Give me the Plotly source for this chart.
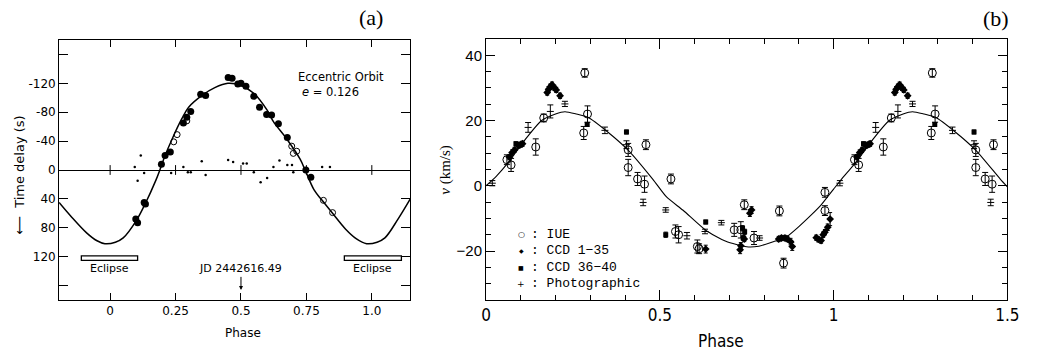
import plotly.graph_objects as go

W, H = 1044, 352

# ---------------- Panel (a) data ----------------
a_curve_phase = [-0.195, -0.15, -0.09, -0.05, -0.02, 0.02, 0.05, 0.10, 0.135, 0.175, 0.19, 0.21, 0.237,
                 0.274, 0.30, 0.35, 0.40, 0.45, 0.50, 0.55, 0.60, 0.624, 0.675, 0.726, 0.745, 0.78, 0.81,
                 0.85, 0.90, 0.94, 0.98, 1.02, 1.05, 1.10, 1.147]
a_curve_delay = [45, 64, 87, 98, 102, 100, 94, 70, 46, 14, 0, -20, -43,
                 -71, -87, -103, -114, -120, -117, -106, -83, -67, -43, -15, 0, 28, 42,
                 60, 82, 95, 102, 100, 94, 68, 40]

a_filled_phase = [0.098, 0.105, 0.13, 0.135, 0.196, 0.21, 0.23, 0.28, 0.293, 0.308, 0.346, 0.365, 0.451,
                  0.466, 0.488, 0.50, 0.519, 0.549, 0.571, 0.598, 0.617, 0.643, 0.677, 0.748, 0.767]
a_filled_delay = [68, 73, 45, 47, -8, -20, -25, -65, -73, -81, -105, -103, -128,
                  -127, -119, -120, -116, -102, -87, -77, -76, -64, -45, 0, 10]

a_open_phase = [0.243, 0.256, 0.293, 0.694, 0.700, 0.713, 0.815, 0.85]
a_open_delay = [-39, -49, -68, -33, -23, -26, 42, 59]

a_dot_phase = [0.094, 0.105, 0.117, 0.13, 0.233, 0.28, 0.297, 0.308, 0.35, 0.365, 0.451, 0.47, 0.508,
               0.522, 0.549, 0.575, 0.60, 0.624, 0.647, 0.677, 0.695, 0.70, 0.81, 0.84]
a_dot_delay = [-4, 15, -20, 4, 4, -4, 3, 3, -12, 7, -14, -11, -9,
               -9, 3, 17, 11, -4, -13, -7, -7, 3, -4, -4]

a_zero_marks = [0, 0.25, 0.5, 0.75, 1.0]
a_xtick_vals = [0, 0.25, 0.5, 0.75, 1.0]
a_xtick_text = ["0", "0.25", "0.5", "0.75", "1.0"]
a_ytick_vals = [-160, -120, -80, -40, 0, 40, 80, 120, 160]
a_ytick_text = ["", "-120", "-80", "-40", "0", "40", "80", "120", ""]

eclipse_start = [-0.11, 0.895]
eclipse_end = [0.105, 1.113]
eclipse_top, eclipse_bottom = 119, 125

# ---------------- Panel (b) data ----------------
b_curve_phase = [0.0, 0.03, 0.066, 0.104, 0.16, 0.20, 0.227, 0.26, 0.293, 0.35, 0.41, 0.48, 0.52, 0.567,
                 0.632, 0.69, 0.75, 0.785, 0.83, 0.86, 0.90, 0.935, 0.963, 1.0, 1.03, 1.066, 1.104, 1.16,
                 1.20, 1.227, 1.26, 1.293, 1.35, 1.41, 1.48, 1.5]
b_curve_v = [0, 3, 7.4, 13, 20, 22, 22.7, 22, 21, 16.5, 10.8, 2, -3.5, -7.5,
             -13.6, -17, -18.7, -18.5, -17, -16, -12.5, -9, -6, -1, 3, 7.4, 13, 20,
             22, 22.7, 22, 21, 16.5, 10.8, 2, -0.3]

iue_phase = [0.060, 0.072, 0.143, 0.166, 0.284, 0.281, 0.292, 0.409, 0.409, 0.436, 0.456, 0.460, 0.532,
             0.545, 0.554, 0.608, 0.613, 0.714, 0.733, 0.743, 0.771, 0.844, 0.856, 0.975, 0.975]
iue_v = [8.0, 6.4, 11.9, 20.8, 34.6, 16.2, 22.0, 11.0, 5.6, 2.1, 0.5, 12.6, 2.1,
         -14.0, -15.0, -18.6, -19.3, -13.5, -13.5, -5.8, -16.0, -7.7, -23.7, -2.0, -7.6]
iue_err = [1.5, 2.0, 2.5, 1.2, 1.3, 2.0, 2.5, 2.0, 2.5, 2.0, 2.5, 1.5, 1.5,
           2.0, 2.5, 2.0, 1.5, 2.0, 2.5, 1.5, 2.0, 1.5, 1.5, 1.5, 1.5]

ccd1_phase = [0.067, 0.075, 0.082, 0.093, 0.099, 0.105, 0.176, 0.180, 0.185, 0.190, 0.197, 0.202, 0.213,
              0.632, 0.731, 0.733, 0.759, 0.764, 0.743, 0.842, 0.850, 0.860, 0.867, 0.876, 0.881,
              0.950, 0.956, 0.964, 0.970, 0.975, 0.983, 0.990]
ccd1_v = [8.8, 10.2, 11.0, 12.3, 12.6, 12.9, 28.6, 29.6, 30.4, 31.0, 30.0, 29.4, 27.6,
          -19.4, -19.6, -18.4, -8.4, -7.4, -16.3, -16.3, -16.0, -16.0, -16.3, -17.1, -18.6,
          -15.9, -16.4, -16.8, -15.0, -14.2, -12.7, -10.2]
ccd1_err = [0.8, 0.8, 0.8, 0.8, 0.8, 0.8, 0.8, 0.8, 0.8, 0.8, 0.8, 0.8, 0.8,
            1.2, 1.2, 1.0, 1.0, 1.0, 0.8, 0.8, 0.8, 0.8, 0.8, 1.0, 1.2,
            0.8, 0.8, 0.8, 0.8, 0.8, 1.0, 2.0]

ccd2_phase = [0.086, 0.291, 0.404, 0.517, 0.632, 0.738, 0.744, 0.740]
ccd2_v = [12.9, 18.8, 16.5, -15.0, -11.1, -13.0, -14.1, -16.0]
ccd2_err = [0.6, 0.6, 0.6, 0.8, 0.6, 0.8, 0.8, 0.8]

phot_phase = [0.018, 0.121, 0.185, 0.227, 0.342, 0.404, 0.452, 0.517, 0.578, 0.630, 0.677, 0.787]
phot_v = [0.8, 17.9, 22.8, 25.1, 17.0, 12.6, -5.1, -7.4, -15.3, -14.0, -11.3, -16.0]
phot_err = [0.8, 1.5, 2.0, 0.8, 1.0, 1.2, 1.0, 0.7, 1.0, 0.7, 0.7, 0.7]

legend_symbols = ["○", "◆", "■", "+"]
legend_symbol_sizes = [8, 6, 6, 9]
legend_labels = [": IUE", ": CCD 1−35", ": CCD 36−40", ": Photographic"]


def two_cycles(ph, v, err):
    """Phase-fold: show each observation, and repeat those with phase < 0.5 one cycle later."""
    P, V, E = list(ph), list(v), list(err)
    for p, vv, e in zip(ph, v, err):
        if p + 1 <= 1.5:
            P.append(p + 1)
            V.append(vv)
            E.append(e)
    return P, V, E


def px(x):
    return x / W


def py(y):
    return 1 - y / H


def note(text, x, y, size, family, angle=0, xanchor="center"):
    return dict(text=text, x=px(x), y=py(y), xref="paper", yref="paper", showarrow=False,
                xanchor=xanchor, yanchor="middle", textangle=angle,
                font=dict(family=family, size=size, color="black"))


fig = go.Figure()

# ---- Panel (a) traces ----
fig.add_trace(go.Scatter(x=a_curve_phase, y=a_curve_delay, mode="lines", line=dict(color="black", width=1.5,
                         shape="spline", smoothing=1.0), xaxis="x", yaxis="y", hoverinfo="skip"))
fig.add_trace(go.Scatter(x=a_zero_marks, y=[0] * len(a_zero_marks), mode="markers",
                         marker=dict(symbol="line-ns", size=7, line=dict(color="black", width=1)),
                         xaxis="x", yaxis="y"))
fig.add_trace(go.Scatter(x=a_dot_phase, y=a_dot_delay, mode="markers",
                         marker=dict(symbol="circle", size=2.5, color="black"), xaxis="x", yaxis="y"))
fig.add_trace(go.Scatter(x=a_filled_phase, y=a_filled_delay, mode="markers",
                         marker=dict(symbol="circle", size=7, color="black"), xaxis="x", yaxis="y"))
fig.add_trace(go.Scatter(x=a_open_phase, y=a_open_delay, mode="markers",
                         marker=dict(symbol="circle-open", size=6, color="black", line=dict(width=1)),
                         xaxis="x", yaxis="y"))

# ---- Panel (b) traces ----
fig.add_trace(go.Scatter(x=b_curve_phase, y=b_curve_v, mode="lines",
                         line=dict(color="black", width=1.1, shape="spline", smoothing=0.6),
                         xaxis="x2", yaxis="y2"))

P, V, E = two_cycles(phot_phase, phot_v, phot_err)
fig.add_trace(go.Scatter(x=P, y=V, mode="markers", xaxis="x2", yaxis="y2",
                         marker=dict(symbol="line-ew", size=5, line=dict(color="black", width=1)),
                         error_y=dict(type="data", array=E, visible=True, color="black", thickness=1, width=3)))
P, V, E = two_cycles(iue_phase, iue_v, iue_err)
fig.add_trace(go.Scatter(x=P, y=V, mode="markers", xaxis="x2", yaxis="y2",
                         marker=dict(symbol="circle-open", size=8, color="black", line=dict(width=1)),
                         error_y=dict(type="data", array=E, visible=True, color="black", thickness=1, width=3)))
P, V, E = two_cycles(ccd1_phase, ccd1_v, ccd1_err)
fig.add_trace(go.Scatter(x=P, y=V, mode="markers", xaxis="x2", yaxis="y2",
                         marker=dict(symbol="diamond", size=6, color="black"),
                         error_y=dict(type="data", array=E, visible=True, color="black", thickness=1, width=2)))
P, V, E = two_cycles(ccd2_phase, ccd2_v, ccd2_err)
fig.add_trace(go.Scatter(x=P, y=V, mode="markers", xaxis="x2", yaxis="y2",
                         marker=dict(symbol="square", size=5, color="black"),
                         error_y=dict(type="data", array=E, visible=True, color="black", thickness=1, width=2)))

# ---- Shapes: eclipse bars ----
shapes = []
for s, e in zip(eclipse_start, eclipse_end):
    shapes.append(dict(type="rect", xref="x", yref="y", x0=s, x1=e, y0=eclipse_top, y1=eclipse_bottom,
                       line=dict(color="black", width=1.3), fillcolor="white"))

fa = "DejaVu Sans"
cond = "DejaVu Sans Condensed, Liberation Sans"
annotations = [
    note("Eccentric Orbit", 342, 77, 11.5, fa),
    note("<i>e</i> = 0.126", 331, 92, 11.5, fa),
    dict(text="JD 2442616.49", x=0.5, y=166, xref="x", yref="y", ax=0, ay=-21, showarrow=True,
         arrowhead=2, arrowsize=0.8, arrowwidth=1, arrowcolor="black", standoff=0,
         xanchor="center", yanchor="middle", font=dict(family=fa, size=11, color="black")),
    note("Phase", 242, 333, 12, fa),
    note("⟵  Time delay (s)", 15, 175, 13, fa, angle=-90),
    note("(a)", 372, 17, 22, "Liberation Serif"),
    note("(b)", 1007, 18, 22, "Liberation Serif"),
    note("<i>v</i> (km/s)", 447, 170, 15, "Liberation Serif", angle=-90),
    note("Phase", 728, 341, 17, cond),
]
for s, e in zip(eclipse_start, eclipse_end):
    annotations.append(dict(text="Eclipse", x=(s + e) / 2, y=136, xref="x", yref="y", showarrow=False,
                            xanchor="center", yanchor="middle", font=dict(family=fa, size=11, color="black")))
for i, (sym, ss, lab) in enumerate(zip(legend_symbols, legend_symbol_sizes, legend_labels)):
    yy = 234 + 16.5 * i
    annotations.append(note(sym, 525, yy, ss, fa))
    annotations.append(note(lab, 533, yy, 13, "Liberation Mono", xanchor="left"))

axis_common = dict(showgrid=False, showline=True, linecolor="black", linewidth=1, mirror="ticks",
                   ticks="inside", tickcolor="black")

fig.update_layout(
    width=W, height=H, autosize=False, showlegend=False,
    margin=dict(l=0, r=0, t=0, b=0),
    paper_bgcolor="white", plot_bgcolor="white",
    shapes=shapes, annotations=annotations,
    xaxis=dict(domain=[px(55), px(412)], range=[-0.195, 1.147], tickmode="array",
               tickvals=a_xtick_vals, ticktext=a_xtick_text, ticklen=7, zeroline=False,
               tickfont=dict(family=fa, size=12, color="black"), anchor="y", **axis_common),
    yaxis=dict(domain=[py(300), py(40)], range=[180, -180], tickmode="array",
               tickvals=a_ytick_vals, ticktext=a_ytick_text, ticklen=9,
               tickfont=dict(family=fa, size=12, color="black"), anchor="x",
               zeroline=True, zerolinecolor="black", zerolinewidth=1, **axis_common),
    xaxis2=dict(domain=[px(489), px(1019)], range=[0, 1.5], tick0=0, dtick=0.5, ticklen=10,
                minor=dict(dtick=0.1, ticklen=5, ticks="inside", tickcolor="black"), zeroline=False,
                tickfont=dict(family=cond, size=17, color="black"),
                anchor="y2", **axis_common),
    yaxis2=dict(domain=[py(300), py(39)], range=[-35, 45], tick0=0, dtick=20, ticklen=9,
                minor=dict(dtick=5, ticklen=5, ticks="inside", tickcolor="black"), zeroline=False,
                tickfont=dict(family="Liberation Sans", size=15, color="black"),
                anchor="x2", **axis_common),
)

fig.write_html("out.html")
